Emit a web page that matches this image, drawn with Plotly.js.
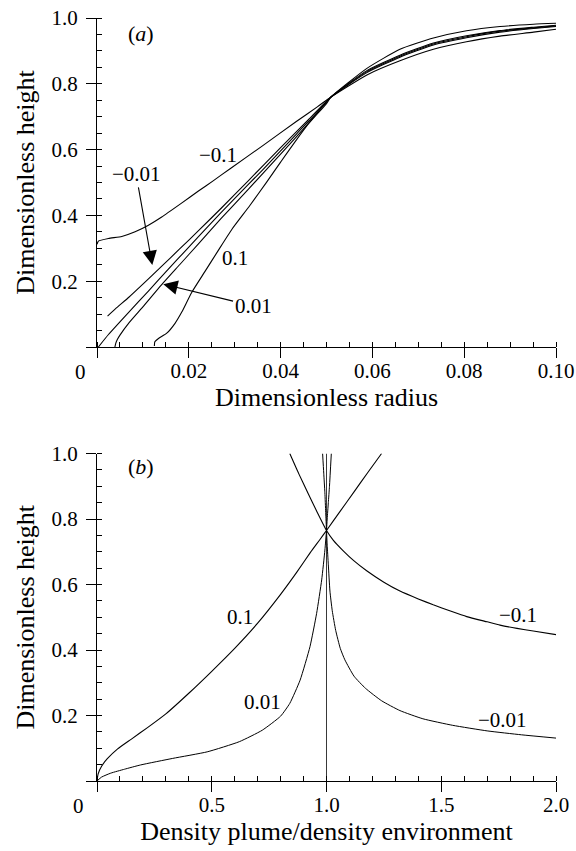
<!DOCTYPE html>
<html>
<head>
<meta charset="utf-8">
<script src="https://cdn.plot.ly/plotly-3.0.1.min.js"></script>
<style>html,body{margin:0;padding:0;background:#fff;} #chart{width:576px;height:851px;}</style>
</head>
<body>
<div id="chart"></div>
<script>
// ---------- Panel (a): dimensionless radius vs height ----------
const aNeg01X = [0, 0.0003, 0.0025, 0.0054, 0.0083, 0.0112, 0.0141, 0.0185, 0.0221, 0.0253, 0.029, 0.0362, 0.0435, 0.048, 0.051, 0.0588, 0.066, 0.0733, 0.0805, 0.0878, 0.0951, 0.100];
const aNeg01Y = [0.312, 0.322, 0.330, 0.336, 0.350, 0.370, 0.395, 0.438, 0.474, 0.505, 0.542, 0.613, 0.686, 0.730, 0.760, 0.827, 0.870, 0.905, 0.928, 0.945, 0.957, 0.966];

const aNeg001X = [0.0023, 0.004, 0.007, 0.010, 0.014, 0.018, 0.022, 0.027, 0.033, 0.040, 0.046, 0.051, 0.0588, 0.066, 0.0733, 0.0805, 0.0878, 0.0951, 0.100];
const aNeg001Y = [0.094, 0.116, 0.152, 0.191, 0.244, 0.298, 0.352, 0.421, 0.506, 0.606, 0.690, 0.760, 0.834, 0.881, 0.918, 0.940, 0.957, 0.968, 0.974];

const aZeroX = [0.0003, 0.0025, 0.0068, 0.0112, 0.0155, 0.0199, 0.0243, 0.0296, 0.0362, 0.0435, 0.0493, 0.051, 0.0588, 0.066, 0.0733, 0.0805, 0.0878, 0.0951, 0.100];
const aZeroY = [0.0, 0.038, 0.104, 0.170, 0.236, 0.302, 0.368, 0.446, 0.540, 0.648, 0.733, 0.760, 0.837, 0.884, 0.921, 0.943, 0.960, 0.970, 0.976];

const aPos001X = [0.0039, 0.0041, 0.0044, 0.0050, 0.007, 0.010, 0.014, 0.018, 0.022, 0.027, 0.033, 0.040, 0.046, 0.051, 0.0588, 0.066, 0.0733, 0.0805, 0.0878, 0.0951, 0.100];
const aPos001Y = [0.0, 0.012, 0.022, 0.036, 0.074, 0.122, 0.188, 0.250, 0.312, 0.390, 0.480, 0.586, 0.679, 0.760, 0.840, 0.887, 0.924, 0.946, 0.962, 0.972, 0.978];

const aPos01X = [0.0125, 0.0126, 0.0134, 0.0152, 0.0170, 0.0185, 0.0206, 0.0235, 0.0264, 0.0294, 0.0333, 0.0370, 0.0400, 0.0457, 0.050, 0.051, 0.0588, 0.066, 0.0733, 0.0805, 0.0878, 0.0951, 0.100];
const aPos01Y = [0.003, 0.016, 0.026, 0.042, 0.072, 0.107, 0.165, 0.229, 0.293, 0.358, 0.430, 0.502, 0.562, 0.672, 0.740, 0.760, 0.847, 0.905, 0.939, 0.961, 0.974, 0.981, 0.984];

// ---------- Panel (b): density ratio vs height ----------
const bPos01X = [0, 0.005, 0.02, 0.045, 0.09, 0.15, 0.22, 0.30, 0.40, 0.50, 0.60, 0.70, 0.80, 0.87, 0.93, 0.97, 1.0, 1.06, 1.12, 1.18, 1.24];
const bPos01Y = [0, 0.022, 0.045, 0.068, 0.098, 0.128, 0.163, 0.205, 0.268, 0.335, 0.405, 0.482, 0.570, 0.637, 0.698, 0.736, 0.765, 0.824, 0.883, 0.942, 1.0];

const bPos001X = [0, 0.02, 0.06, 0.12, 0.19, 0.33, 0.48, 0.62, 0.72, 0.80, 0.84, 0.885, 0.928, 0.957, 0.979, 0.993, 1.0, 1.003, 1.008, 1.013, 1.021];
const bPos001Y = [0, 0.012, 0.024, 0.036, 0.049, 0.069, 0.089, 0.120, 0.155, 0.198, 0.237, 0.308, 0.410, 0.512, 0.614, 0.705, 0.765, 0.80, 0.85, 0.90, 1.0];

const bZeroX = [1.0, 1.0];
const bZeroY = [0.0, 1.0];

const bNeg001X = [0.983, 0.988, 0.993, 0.9965, 1.0, 1.003, 1.008, 1.015, 1.025, 1.04, 1.06, 1.08, 1.12, 1.17, 1.24, 1.32, 1.42, 1.55, 1.70, 1.85, 2.0];
const bNeg001Y = [1.0, 0.94, 0.88, 0.82, 0.765, 0.72, 0.66, 0.58, 0.52, 0.46, 0.405, 0.37, 0.32, 0.283, 0.245, 0.215, 0.19, 0.17, 0.153, 0.141, 0.131];

const bNeg01X = [0.84, 0.88, 0.92, 0.96, 1.0, 1.03, 1.073, 1.12, 1.175, 1.25, 1.32, 1.40, 1.465, 1.54, 1.611, 1.70, 1.756, 1.83, 1.901, 2.0];
const bNeg01Y = [1.0, 0.937, 0.878, 0.82, 0.765, 0.735, 0.703, 0.672, 0.642, 0.607, 0.58, 0.556, 0.538, 0.519, 0.502, 0.486, 0.476, 0.466, 0.458, 0.447];

// ---------- Tick settings / labels ----------
const aXDtick = 0.02, aXMinor = 0.005, aXFormat = '.2f';
const bXDtick = 0.5, bXMinor = 0.1, bXFormat = '.1f';
const yDtick = 0.2, yMinor = 0.05, yFormat = '.1f';
const originLabel = '0';

const FONT = 'Liberation Serif';
function fnt(size) { return {family: FONT, size: size, color: '#000'}; }

function line(x, y, xa, ya, w, c) {
  return {x: x, y: y, xaxis: xa, yaxis: ya, type: 'scatter', mode: 'lines',
    line: {color: c || '#000', width: w || 1.1, shape: 'spline', smoothing: 0.5},
    hoverinfo: 'skip', showlegend: false};
}

const traces = [
  line(aNeg01X, aNeg01Y, 'x', 'y'),
  line(aNeg001X, aNeg001Y, 'x', 'y'),
  line(aZeroX, aZeroY, 'x', 'y'),
  line(aPos001X, aPos001Y, 'x', 'y'),
  line(aPos01X, aPos01Y, 'x', 'y'),
  line(bPos01X, bPos01Y, 'x2', 'y2'),
  line(bPos001X, bPos001Y, 'x2', 'y2', 1.0),
  line(bZeroX, bZeroY, 'x2', 'y2', 0.9, '#222'),
  line(bNeg001X, bNeg001Y, 'x2', 'y2', 1.0),
  line(bNeg01X, bNeg01Y, 'x2', 'y2')
];

const dxTop = [97/576, 556/576];
const dyTop = [1 - 347/851, 1 - 18/851];
const dyBot = [1 - 781/851, 1 - 453.5/851];

function mainAxis(range, dtick, minorDt, fmt, zeroAlias, anchor, dom, title, standoffLbl, titleStandoff) {
  const alias = {}; alias[zeroAlias] = ' ';
  return {domain: dom.slice(), range: range.slice(), anchor: anchor, showline: true, linecolor: '#000', linewidth: 1,
    showgrid: false, zeroline: false, tickmode: 'linear', tick0: 0, dtick: dtick, tickformat: fmt,
    labelalias: alias,
    ticks: 'outside', ticklen: 10, tickwidth: 1, tickcolor: '#000', tickfont: fnt(21),
    ticklabelstandoff: standoffLbl,
    minor: {tickmode: 'linear', tick0: 0, dtick: minorDt, ticks: 'inside', ticklen: 5, tickwidth: 1, tickcolor: '#000', showgrid: false},
    title: {text: title, font: fnt(26), standoff: titleStandoff}, fixedrange: true};
}

function arrowAnn(x, y, ax, ay, text) {
  return {xref: 'x', yref: 'y', x: x, y: y, ax: ax, ay: ay, axref: 'x', ayref: 'y', text: text, font: fnt(21),
    showarrow: true, arrowhead: 2, arrowsize: 2.6, arrowwidth: 1.1, arrowcolor: '#000', standoff: 0, startstandoff: 0};
}
function txt(xref, yref, x, y, text, size, italic) {
  return {xref: xref, yref: yref, x: x, y: y, text: text, showarrow: false, xanchor: 'center', yanchor: 'middle', font: fnt(size)};
}
const annotations = [
  txt('x', 'y', 0.0096, 0.954, '(<i>a</i>)', 22),
  txt('x2', 'y2', 0.192, 0.959, '(<i>b</i>)', 22),
  txt('paper', 'paper', 80/576, 1 - 372/851, originLabel, 21),
  txt('paper', 'paper', 78/576, 1 - 806/851, originLabel, 21),
  txt('x', 'y', 0.0264, 0.584, '\u22120.1', 21),
  txt('x', 'y', 0.0301, 0.271, '0.1', 21),
  arrowAnn(0.01205, 0.249, 0.0085, 0.526, '\u22120.01'),
  arrowAnn(0.01444, 0.191, 0.0340, 0.1246, '0.01'),
  txt('x2', 'y2', 0.621, 0.500, '0.1', 21),
  txt('x2', 'y2', 0.722, 0.240, '0.01', 21),
  txt('x2', 'y2', 1.834, 0.507, '\u22120.1', 21),
  txt('x2', 'y2', 1.767, 0.185, '\u22120.01', 21)
];

const aRange = [0, 0.100001];
const bRange = [0, 2.00001];
const yRange = [0, 1.00001];

const layout = {
  width: 576, height: 851,
  margin: {l: 0, r: 0, t: 0, b: 0},
  paper_bgcolor: '#fff', plot_bgcolor: '#fff',
  showlegend: false,
  font: {family: FONT, color: '#000'},
  xaxis: mainAxis(aRange, aXDtick, aXMinor, aXFormat, '0.00', 'y', dxTop, 'Dimensionless radius', -5, 3),
  yaxis: mainAxis(yRange, yDtick, yMinor, yFormat, '0.0', 'x', dyTop, 'Dimensionless height', 4, 9),
  xaxis2: mainAxis(bRange, bXDtick, bXMinor, bXFormat, '0.0', 'y2', dxTop, 'Density plume/density environment', -5, 3),
  yaxis2: mainAxis(yRange, yDtick, yMinor, yFormat, '0.0', 'x2', dyBot, 'Dimensionless height', 4, 9)
};

const gd = document.getElementById('chart');
Plotly.newPlot(gd, traces, layout, {staticPlot: true, displayModeBar: false})
  .then(function() { return Plotly.relayout(gd, {annotations: annotations}); })
  .then(function() {
    const n = gd.querySelectorAll('path.xtick, path.ytick, path.x2tick, path.y2tick').length;
    if (n < 40) {
      return Plotly.relayout(gd, {'xaxis.ticks': 'outside', 'yaxis.ticks': 'outside', 'xaxis2.ticks': 'outside', 'yaxis2.ticks': 'outside'});
    }
  });
</script>
</body>
</html>
